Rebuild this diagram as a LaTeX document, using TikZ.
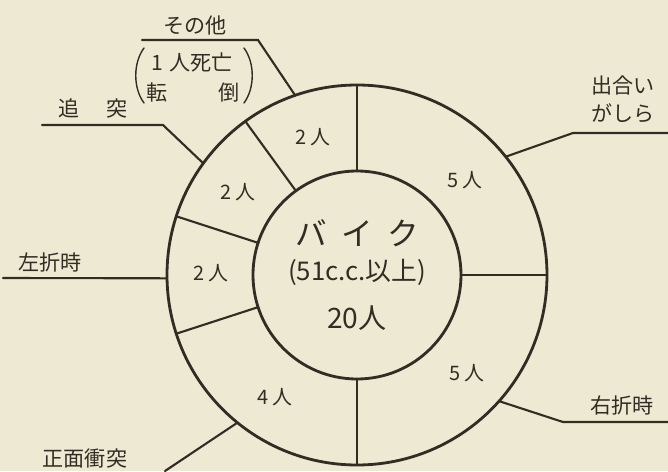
\documentclass[tikz,border=0pt]{standalone}
\usepackage{fontspec}
\setmainfont{Noto Sans CJK JP}
\usetikzlibrary{positioning}
\definecolor{paper}{RGB}{238,233,211}
\definecolor{ink}{RGB}{52,44,36}
\tikzset{
  ring/.style={line width=2.4pt, draw=ink},
  divider/.style={line width=1.8pt, draw=ink},
  leader/.style={line width=1.8pt, draw=ink, line join=miter},
  paren/.style={line width=1.2pt, draw=ink},
  count/.style={font=\fontsize{17}{20}\selectfont, text=ink, inner sep=0pt},
  cause/.style={font=\fontsize{18}{24}\selectfont, text=ink, inner sep=0pt}
}
\begin{document}
\begin{tikzpicture}[x=0.03cm, y=0.03cm, line cap=round]
		% Фон
		\useasboundingbox[fill=paper] (-357,-196) rectangle (311,275);
		
		% Кольцо
		\draw[ring] (0,0) circle (190);
		\draw[ring] (0,0) circle (104);
		
		% Границы секторов
		\draw[divider] (90:104) -- (90:190);
		\draw[divider] (126:104) -- (126:190);
		\draw[divider] (162:104) -- (162:190);
		\draw[divider] (198:104) -- (198:190);
		\draw[divider] (270:104) -- (270:190);
		\draw[divider] (0:104) -- (0:190);
		
		% Центр
		\node[text=ink, font=\fontsize{27}{30}\selectfont, inner sep=0pt] (bike) at (0,42) {バ\hspace{0.45em}イ\hspace{0.45em}ク};
		\node[text=ink, font=\fontsize{22}{26}\selectfont, inner sep=0pt] (cc) at (0,3) {(51c.c.以上)};
		\node[text=ink, font=\fontsize{24}{28}\selectfont, inner sep=0pt] (total) at (0,-43) {20人};
		
		% Число в секторе
		\node[count] (n-sonota) at (-44,138) {2 人};
		\node[count] (n-tsuitotsu) at (-119,83) {2 人};
		\node[count] (n-sasetsu) at (-146,2) {2 人};
		\node[count] (n-shomen) at (-82,-122) {4 人};
		\node[count] (n-usetsu) at (110,-98) {5 人};
		\node[count] (n-deai) at (108,95) {5 人};
		
		% Подписи
		\node[cause] (sonota) at (-162,250) {その他};
		\node[cause] (shibo) at (-165,213) {1\hspace{0.3em}人死亡};
		\node[cause] (tentou) at (-164,182) {\makebox[4.4em][s]{転\hfill 倒}};
		\node[cause] (tsuitotsu) at (-264,167) {追\hspace{1.3em}突};
		\node[cause] (sasetsu) at (-307,13) {左折時};
		\node[cause] (shomen) at (-272,-183) {正面衝突};
		\node[cause, align=left] (deai) at (266,176) {出合い\\がしら};
		\node[cause] (usetsu) at (265,-130) {右折時};
		
		% Скобки
		\draw[paren] (-213,227) .. controls (-224,212) and (-224,187) .. (-213,172);
		\draw[paren] (-113,227) .. controls (-102,212) and (-102,187) .. (-113,172);
		
		% Выноски
		\coordinate (sonota-a) at (-215,235);
		\coordinate (sonota-b) at (-99,235);
		\coordinate (sonota-c) at (109:190);
		\draw[leader] (sonota-a) -- (sonota-b) -- (sonota-c);
		
		\coordinate (tsuitotsu-a) at (-315,150);
		\coordinate (tsuitotsu-b) at (-194,150);
		\coordinate (tsuitotsu-c) at (144:190);
		\draw[leader] (tsuitotsu-a) -- (tsuitotsu-b) -- (tsuitotsu-c);
		
		\coordinate (sasetsu-a) at (-354,-3);
		\coordinate (sasetsu-c) at (181:190);
		\draw[leader] (sasetsu-a) -- (sasetsu-c);
		
		\coordinate (shomen-a) at (-192,-196);
		\coordinate (shomen-c) at (231:190);
		\draw[leader] (shomen-a) -- (shomen-c);
		
		\coordinate (deai-a) at (311,142);
		\coordinate (deai-b) at (216,142);
		\coordinate (deai-c) at (38.5:190);
		\draw[leader] (deai-a) -- (deai-b) -- (deai-c);
		
		\coordinate (usetsu-a) at (311,-147);
		\coordinate (usetsu-b) at (206,-147);
		\coordinate (usetsu-c) at (-41.6:190);
		\draw[leader] (usetsu-a) -- (usetsu-b) -- (usetsu-c);
		
\end{tikzpicture}
\end{document}
